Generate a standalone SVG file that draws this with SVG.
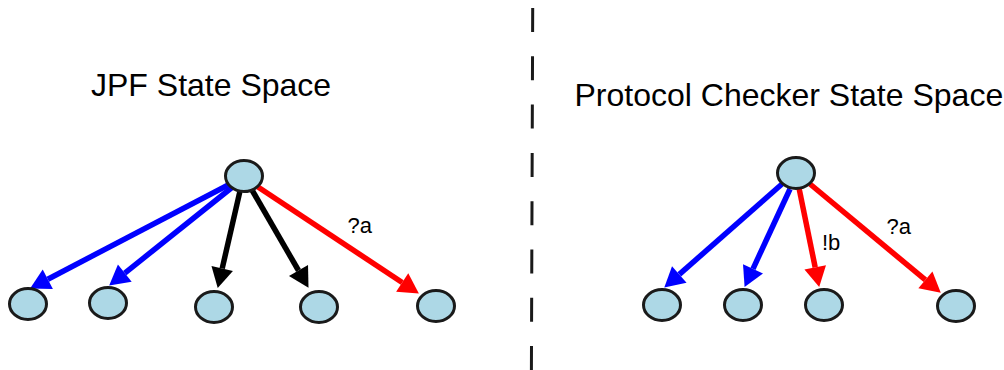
<svg xmlns="http://www.w3.org/2000/svg" width="1004" height="370" viewBox="0 0 1004 370">
  <defs>
    <marker id="head-blue" markerUnits="userSpaceOnUse" markerWidth="21" markerHeight="22" refX="0" refY="11" orient="auto" overflow="visible">
      <path d="M0,0 L20,11 L0,22 Z" fill="#0000FF"/>
    </marker>
    <marker id="head-black" markerUnits="userSpaceOnUse" markerWidth="21" markerHeight="22" refX="0" refY="11" orient="auto" overflow="visible">
      <path d="M0,0 L20,11 L0,22 Z" fill="#000000"/>
    </marker>
    <marker id="head-red" markerUnits="userSpaceOnUse" markerWidth="21" markerHeight="22" refX="0" refY="11" orient="auto" overflow="visible">
      <path d="M0,0 L20,11 L0,22 Z" fill="#FF0000"/>
    </marker>
  </defs>
  <style>
    .title { font-family: "Liberation Sans", Arial, sans-serif; font-size: 32px; fill: #000; }
    .label { font-family: "Liberation Sans", Arial, sans-serif; font-size: 22px; fill: #000; }
    .state { fill: #ADD8E6; stroke: #1a1a1a; stroke-width: 3; }
    .edge { fill: none; stroke-width: 5.5; stroke-linecap: butt; }
    .blue { stroke: #0000FF; marker-end: url(#head-blue); }
    .black { stroke: #000000; marker-end: url(#head-black); }
    .red { stroke: #FF0000; marker-end: url(#head-red); }
    .divider { stroke: #1a1a1a; stroke-width: 3; stroke-dasharray: 24 24.3; fill: none; }
  </style>

  <rect width="1004" height="370" fill="#FFFFFF"/>

  <!-- vertical separator between the two state spaces -->
  <line class="divider" x1="532.7" y1="8" x2="531.4" y2="372"/>

  <!-- headings -->
  <text class="title" x="91" y="96">JPF State Space</text>
  <text class="title" x="574.5" y="106">Protocol Checker State Space</text>

  <!-- transitions -->
  <g id="connectors">
    <!-- JPF side -->
    <line class="edge blue" x1="232" y1="183" x2="47.8" y2="279.2"/>
    <line class="edge blue" x1="235" y1="185" x2="124.8" y2="273.1"/>
    <line class="edge black" x1="240" y1="191" x2="222.2" y2="268.5"/>
    <line class="edge black" x1="252" y1="190" x2="298.5" y2="270.5"/>
    <line class="edge red" x1="258" y1="187" x2="402.2" y2="282.5"/>
    <text class="label" x="347.5" y="233">?a</text>
    <!-- protocol checker side -->
    <line class="edge blue" x1="782" y1="184" x2="679.3" y2="274.4"/>
    <line class="edge blue" x1="790" y1="189" x2="753.0" y2="268.8"/>
    <line class="edge red" x1="799" y1="188" x2="815.2" y2="267.4"/>
    <line class="edge red" x1="810" y1="184" x2="925.4" y2="279.9"/>
    <text class="label" x="822" y="250">!b</text>
    <text class="label" x="886.5" y="234">?a</text>
  </g>

  <!-- JPF states -->
  <g id="jpf-root"><ellipse class="state" cx="244" cy="176" rx="18.5" ry="15.5"/></g>
  <g id="jpf-s1"><ellipse class="state" cx="28" cy="304" rx="18.5" ry="15.5"/></g>
  <g id="jpf-s2"><ellipse class="state" cx="108" cy="303" rx="18.5" ry="15.5"/></g>
  <g id="jpf-s3"><ellipse class="state" cx="214" cy="307" rx="18.5" ry="15.5"/></g>
  <g id="jpf-s4"><ellipse class="state" cx="319" cy="307" rx="18.5" ry="15.5"/></g>
  <g id="jpf-s5"><ellipse class="state" cx="436" cy="306" rx="18.5" ry="15.5"/></g>

  <!-- protocol checker states -->
  <g id="pc-root"><ellipse class="state" cx="796" cy="173" rx="18.5" ry="15.5"/></g>
  <g id="pc-s1"><ellipse class="state" cx="662" cy="305" rx="18.5" ry="15.5"/></g>
  <g id="pc-s2"><ellipse class="state" cx="743" cy="305" rx="18.5" ry="15.5"/></g>
  <g id="pc-s3"><ellipse class="state" cx="824" cy="305" rx="18.5" ry="15.5"/></g>
  <g id="pc-s4"><ellipse class="state" cx="956" cy="306" rx="18.5" ry="15.5"/></g>
</svg>
